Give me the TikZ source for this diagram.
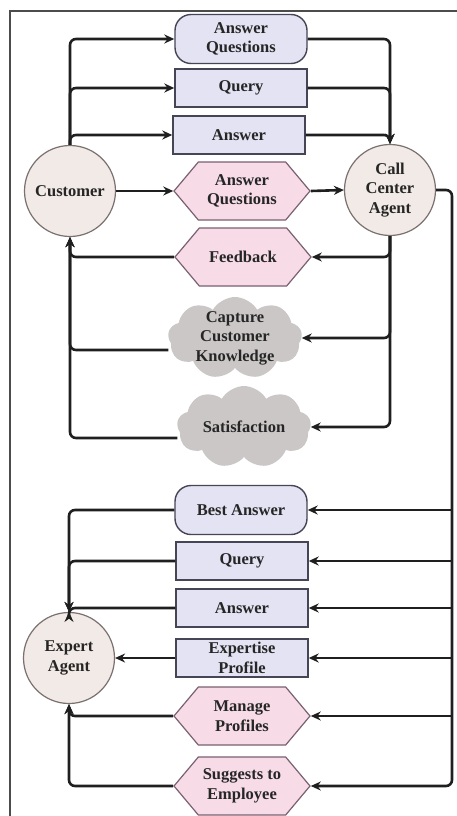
\documentclass[tikz,border=0pt]{standalone}
\usepackage{fontspec}
\setmainfont{Liberation Serif}
\usetikzlibrary{shapes.symbols,shapes.geometric,arrows.meta}
\definecolor{txt}{HTML}{262626}
\definecolor{agfill}{HTML}{F2EAE6}
\definecolor{agdraw}{HTML}{7A7070}
\definecolor{rcfill}{HTML}{E3E3F3}
\definecolor{rcdraw}{HTML}{454555}
\definecolor{hxfill}{HTML}{F7DCE8}
\definecolor{hxdraw}{HTML}{7A6070}
\definecolor{clfill}{HTML}{CCC7C7}
\tikzset{
  base/.style={font=\fontsize{16.5}{19.5}\selectfont\bfseries, text=txt, align=center},
  agent/.style={base, circle, fill=agfill, draw=agdraw, line width=1.2pt, minimum size=91pt, inner sep=0pt},
  rect/.style={base, rectangle, fill=rcfill, draw=rcdraw, line width=1.4pt, minimum width=132pt, minimum height=38pt, inner sep=0pt},
  rbox/.style={rect, rounded corners=16pt, minimum height=49pt},
  hexa/.style={base, signal, signal to=east and west, signal pointer angle=100, fill=hxfill, draw=hxdraw, line width=1.2pt, minimum width=136pt, minimum height=58pt, inner sep=0pt},
  cloudy/.style={base, cloud, cloud puffs=9, cloud puff arc=120, aspect=1.6, fill=clfill, draw=none, minimum width=134pt, minimum height=82pt, inner sep=-6pt},
  arr/.style={line width=2.6pt, draw=black!88, rounded corners=6pt, -{Stealth[length=10pt,width=9pt]}},
}
\begin{document}
\begin{tikzpicture}[x=1pt,y=-1pt]
\useasboundingbox (0,0) rectangle (457,816);
\draw[black!70, line width=1.3pt] (457,11) -- (10,11) -- (10,816);

\node[agent] (cust) at (70,191) {Customer};
\node[agent] (cca) at (390,190) {Call\\Center\\Agent};
\node[agent] (exp) at (69,658) {Expert\\Agent};

\node[rbox] (aq1) at (241,39) {Answer\\Questions};
\node[rect] (q1) at (241,88) {Query};
\node[rect] (a1) at (239,135) {Answer};
\node[hexa] (aq2) at (242,191) {Answer\\Questions};
\node[hexa] (fb) at (243,257) {Feedback};
\node[cloudy] (ck) at (235,338) {Capture\\Customer\\Knowledge};
\node[cloudy] (sat) at (244,427) {Satisfaction};
\node[rbox] (ba) at (241,510) {Best Answer};
\node[rect] (q2) at (242,561) {Query};
\node[rect] (a2) at (242,608) {Answer};
\node[rect] (ep) at (242,658) {Expertise\\Profile};
\node[hexa] (mp) at (242,716) {Manage\\Profiles};
\node[hexa] (se) at (242,786) {Suggests to\\Employee};

\coordinate (rr) at (452,786);

% customer -> top boxes -> call center
\draw[arr] (cust.north) |- (aq1.west);
\draw[arr] (cust.north) |- (q1.west);
\draw[arr] (cust.north) |- (a1.west);
\draw[arr] (aq1.east) -| (cca.north);
\draw[arr] (q1.east) -| (cca.north);
\draw[arr] (a1.east) -| (cca.north);
\draw[arr] (cust.east) -- (aq2.west);
\draw[arr] (aq2.east) -- (cca.west);

% call center -> feedback etc -> customer
\draw[arr] (cca.south) |- (fb.east);
\draw[arr] (cca.south) |- (ck.east);
\draw[arr] (cca.south) |- (sat.east);
\draw[arr] (fb.west) -| (cust.south);
\draw[arr] ([yshift=-12pt]ck.west) -| (cust.south);
\draw[arr] ([yshift=-11pt]sat.west) -| (cust.south);

% call center -> lower boxes
\draw[arr] (cca.east) -| (rr) -- (se.east);
\draw[arr] (rr |- ba.east) -- (ba.east);
\draw[arr] (rr |- q2.east) -- (q2.east);
\draw[arr] (rr |- a2.east) -- (a2.east);
\draw[arr] (rr |- ep.east) -- (ep.east);
\draw[arr] (rr |- mp.east) -- (mp.east);

% lower boxes -> expert
\draw[arr] (ba.west) -| (exp.north);
\draw[arr] (q2.west) -| (exp.north);
\draw[arr] (a2.west) -| (exp.north);
\draw[arr] (ep.west) -- (exp.east);
\draw[arr] (mp.west) -| (exp.south);
\draw[arr] (se.west) -| (exp.south);
\end{tikzpicture}
\end{document}
